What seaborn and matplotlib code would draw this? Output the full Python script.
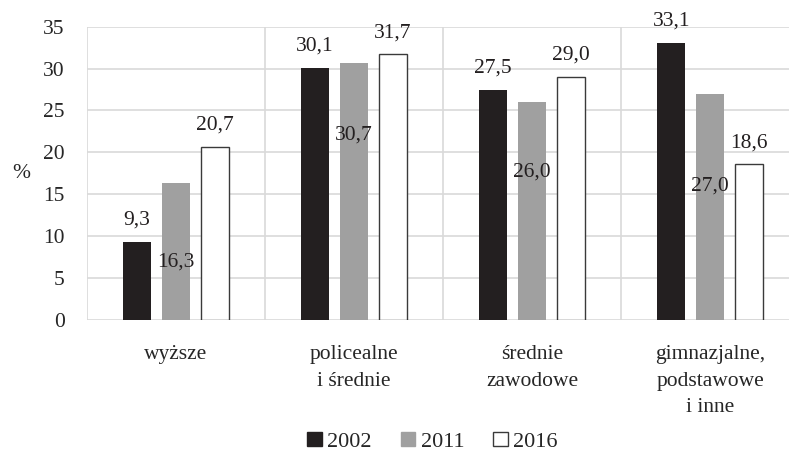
import pandas as pd
import matplotlib
matplotlib.use("Agg")
import matplotlib.pyplot as plt
import seaborn as sns

categories = ["wyższe", "policealne\ni średnie", "średnie\nzawodowe", "gimnazjalne,\npodstawowe\ni inne"]
years = ["2002", "2011", "2016"]
v2002 = [9.3, 30.1, 27.5, 33.1]
v2011 = [16.3, 30.7, 26.0, 27.0]
v2016 = [20.7, 31.7, 29.0, 18.6]
# heights where the 2011 labels sit in the original (inside the grey bars)
lab2011_y = [6.9, 22.1, 17.6, 16.0]

df = pd.DataFrame({
    "cat": categories * 3,
    "rok": [y for y in years for _ in categories],
    "val": v2002 + v2011 + v2016,
})

sns.set_style("white")
plt.rcParams["font.family"] = ["Liberation Serif", "DejaVu Serif"]
plt.rcParams["font.size"] = 15.5

fig = plt.figure(figsize=(7.89, 4.54), dpi=100)
ax = fig.add_axes([0.1103, 0.2952, 0.9024, 0.646])

pal = {"2002": "#231f20", "2011": "#a0a0a0", "2016": "#ffffff"}
sns.barplot(data=df, x="cat", y="val", hue="rok", palette=pal, width=0.655, gap=0.29,
            saturation=1, ax=ax, legend=False, linewidth=0)

for bar in ax.containers[2]:
    bar.set_edgecolor("#3a3a3a")
    bar.set_linewidth(1.0)

fmt = lambda v: f"{v:.1f}".replace(".", ",")
for i, cont in enumerate(ax.containers):
    for j, bar in enumerate(cont):
        xc = bar.get_x() + bar.get_width() / 2
        v = bar.get_height()
        if i == 1:
            ax.text(xc, lab2011_y[j], fmt(v), ha="center", va="center", color="#231f20")
        else:
            ax.annotate(fmt(v), (xc, v), xytext=(0, 15.5), textcoords="offset points",
                        ha="center", va="center", color="#231f20")

ax.set_xlim(-0.5, 3.5)
ax.set_ylim(0, 35)
ax.set_yticks(range(0, 36, 5))
ax.set_xticks([-0.5, 0.5, 1.5, 2.5], minor=True)
ax.grid(True, which="major", axis="y", color="#d9d9d9", linewidth=1.2)
ax.grid(True, which="minor", axis="x", color="#d9d9d9", linewidth=1.2)
ax.set_axisbelow(True)
for s in ax.spines.values():
    s.set_visible(False)
ax.tick_params(axis="both", which="both", length=0)
ax.tick_params(axis="y", pad=16)
ax.tick_params(axis="x", pad=18)
for t in ax.get_xticklabels():
    t.set_linespacing(1.55)
ax.set_xlabel("")
ax.set_ylabel("%", rotation=0, va="center", ha="center")
ax.yaxis.set_label_coords(-0.093, 0.5)

handles = [plt.Rectangle((0, 0), 1, 1, facecolor=pal[y],
                         edgecolor="#3a3a3a" if y == "2016" else pal[y], linewidth=1.0)
           for y in years]
fig.legend(handles, years, loc="center", bbox_to_anchor=(0.548, 0.027), ncol=3, frameon=False,
           fontsize=16, handlelength=0.65, handleheight=0.65, handletextpad=0.25, columnspacing=1.3,
           borderpad=0.1)

fig.savefig("out.png", dpi=100)
